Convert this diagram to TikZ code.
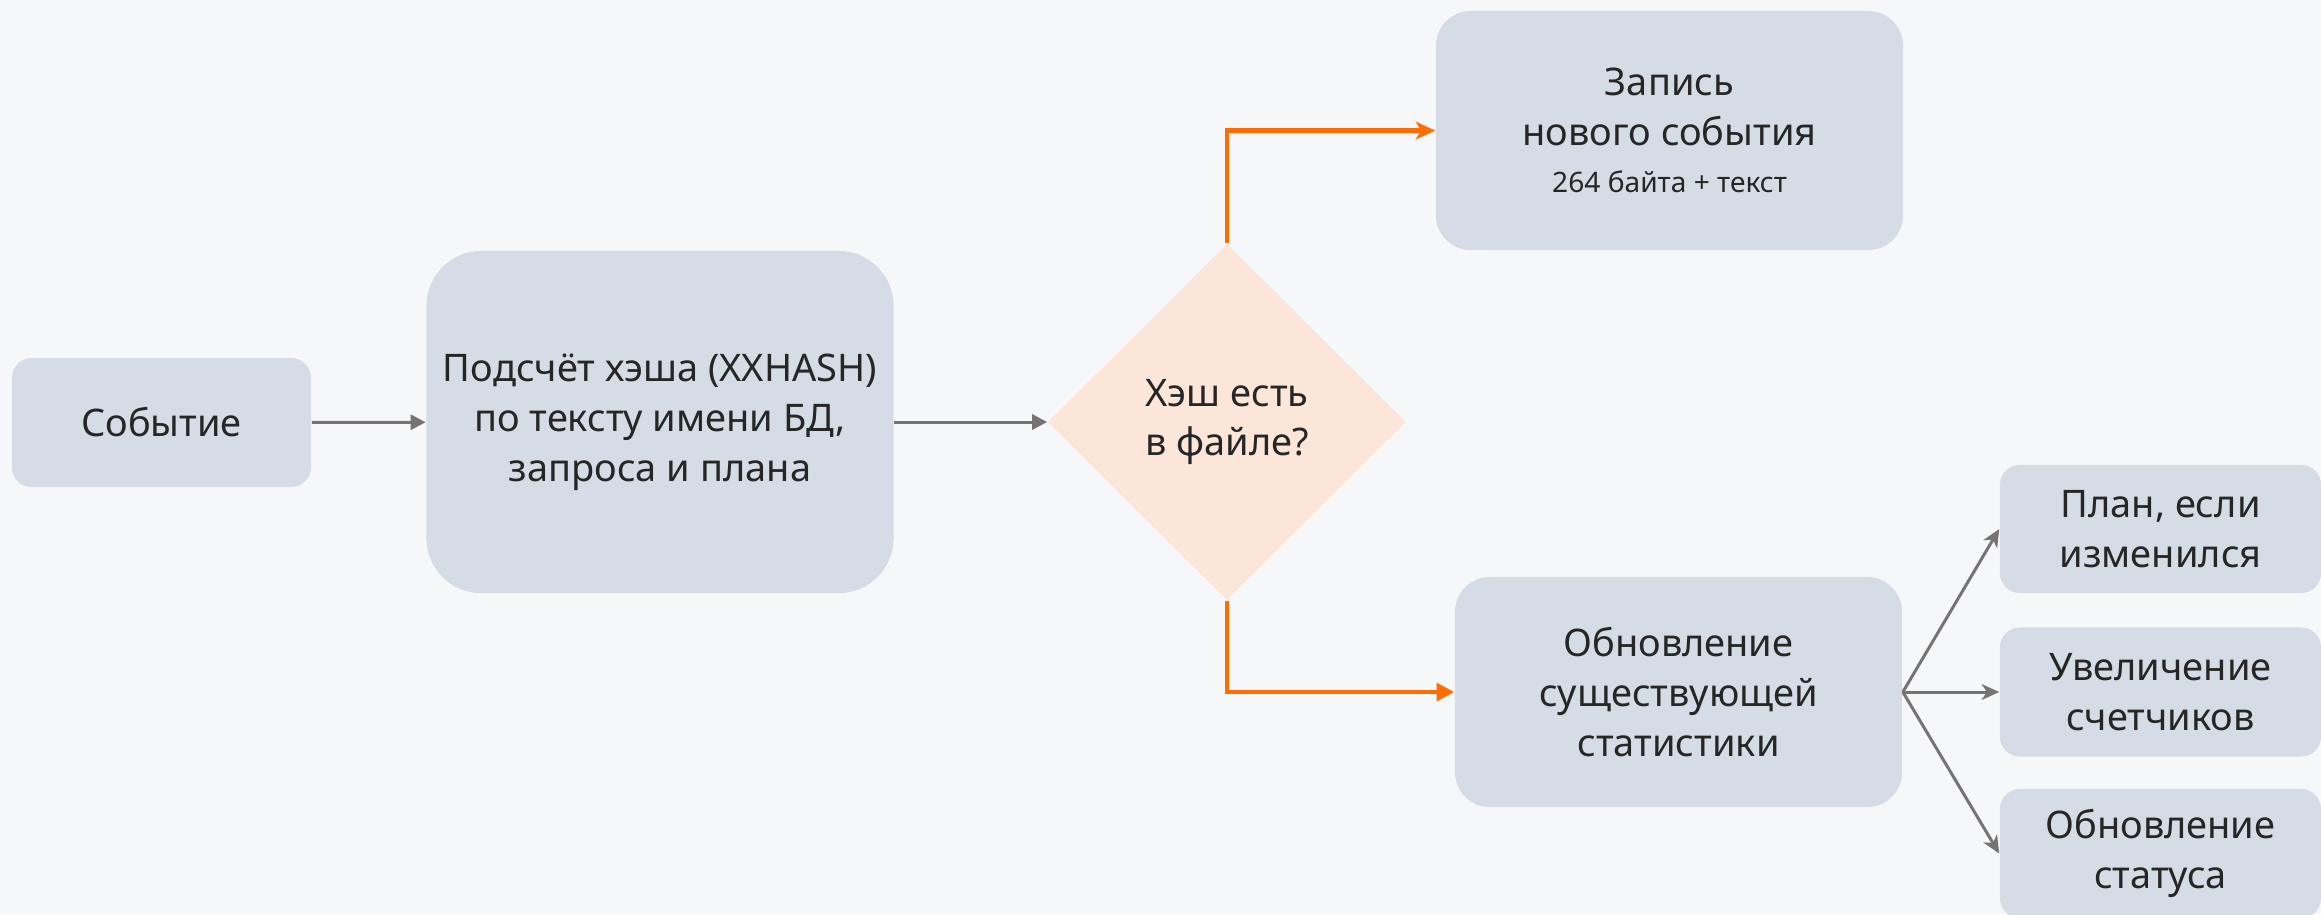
\documentclass[tikz,border=0pt]{standalone}
\usepackage{fontspec}
\setmainfont{Noto Sans}
\usetikzlibrary{arrows.meta,shapes.geometric}

\definecolor{bgcol}{HTML}{F6F7F9}
\definecolor{boxcol}{HTML}{D5DCE6}
\definecolor{diacol}{HTML}{FCE6D9}
\definecolor{orangecol}{HTML}{FF6D00}
\definecolor{graycol}{HTML}{777373}
\definecolor{txtcol}{HTML}{262626}

\tikzset{
  box/.style={fill=boxcol,rounded corners=0.35cm,align=center,text=txtcol,inner sep=0pt},
  decision/.style={diamond,fill=diacol,aspect=1,inner sep=0pt,align=center,text=txtcol},
  grayarr/.style={draw=graycol,line width=0.85pt,-{Triangle[length=4.3pt,width=4.3pt]}},
  fanarr/.style={draw=graycol,line width=0.85pt,-{Stealth[length=5pt,width=4.5pt,inset=1.5pt]}},
  orangearr/.style={draw=orangecol,line width=1.15pt},
}

\begin{document}
\begin{tikzpicture}[x=0.01cm,y=-0.01cm,font=\fontsize{10.8}{14.2}\selectfont]
\fill[bgcol] (0,0) rectangle (2321,914);
\useasboundingbox (0,0) rectangle (2321,914);
\node[box,rounded corners=0.2cm,minimum width=2.99cm,minimum height=1.29cm] (event) at (161.5,422.5) {Событие};
\node[box,rounded corners=0.55cm,minimum width=4.67cm,minimum height=3.42cm] (hash) at (660,422) {Подсчёт хэша (XXHASH)\\ по тексту имени БД,\\ запроса и плана};
\node[decision,minimum width=3.58cm,minimum height=3.56cm] (check) at (1227,422) {Хэш есть\\ в файле?};
\node[box,minimum width=4.67cm,minimum height=2.39cm] (write) at (1669.5,130.5) {Запись\\ нового события\\[-1pt] {\fontsize{8}{10}\selectfont 264 байта + текст}};
\node[box,minimum width=4.47cm,minimum height=2.30cm] (update) at (1678.5,692) {Обновление\\ существующей\\ статистики};
\node[box,rounded corners=0.2cm,minimum width=3.21cm,minimum height=1.28cm] (plan) at (2160.5,529) {План, если\\ изменился};
\node[box,rounded corners=0.2cm,minimum width=3.21cm,minimum height=1.29cm] (count) at (2160.5,692) {Увеличение\\ счетчиков};
\node[box,rounded corners=0.2cm,minimum width=3.21cm,minimum height=1.29cm] (status) at (2160.5,853.5) {Обновление\\ статуса};

\draw[grayarr] (event) -- (hash);
\draw[grayarr] (hash) -- (check);
\draw[orangearr,-{Stealth[length=5.5pt,width=5pt,inset=1.5pt]}] (check.north) |- (write.west);
\draw[orangearr,-{Triangle[length=5pt,width=5pt]}] (check.south) |- (update.west);
\draw[fanarr] (update.east) -- (plan.west);
\draw[fanarr] (update.east) -- (count.west);
\draw[fanarr] (update.east) -- (status.west);
\end{tikzpicture}
\end{document}
